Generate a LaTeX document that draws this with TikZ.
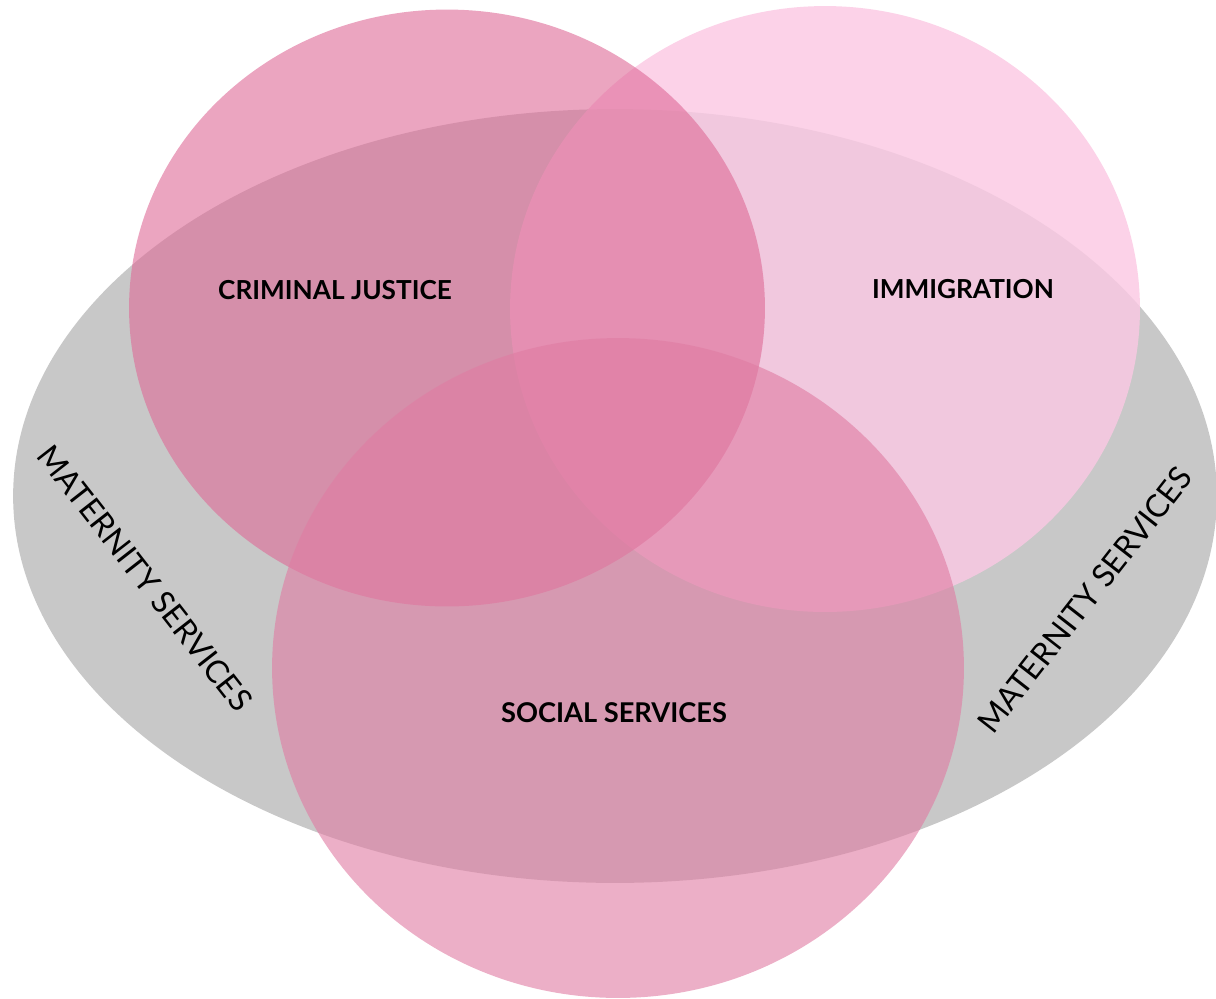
\documentclass[tikz,border=0pt]{standalone}
\usepackage{fontspec}
\setmainfont{Lato}
\definecolor{ellgray}{RGB}{200,200,200}
\definecolor{cjpink}{RGB}{222,105,150}
\definecolor{impink}{RGB}{251,200,227}
\definecolor{sspink}{RGB}{224,124,163}
\begin{document}
\begin{tikzpicture}[x=0.02cm,y=-0.02cm,
  boldlabel/.style={font=\fontsize{14.9}{17}\selectfont\bfseries, text=black, inner sep=0pt},
  midlabel/.style={font=\fontsize{15.5}{17}\selectfont\bfseries, text=black, inner sep=0pt},
  sidelabel/.style={font=\fontsize{18}{20}\selectfont, text=black, inner sep=0pt}]
\useasboundingbox (0,0) rectangle (1216,998);
% maternity ellipse
\fill[ellgray] (615,496) ellipse [x radius=12.04cm, y radius=7.74cm];
% circles
\fill[impink, fill opacity=0.82] (825,309) ellipse [x radius=6.30cm, y radius=6.06cm];
\fill[cjpink, fill opacity=0.6] (447,308) ellipse [x radius=6.36cm, y radius=5.97cm];
\fill[sspink, fill opacity=0.61] (618,668) ellipse [x radius=6.92cm, y radius=6.60cm];
% labels
\node[boldlabel] (cj) at (335,290) {CRIMINAL JUSTICE};
\node[boldlabel] (im) at (963,289) {IMMIGRATION};
\node[midlabel] (ss) at (614,713) {SOCIAL SERVICES};
\node[sidelabel, rotate=-52] (msl) at (145,578) {MATERNITY SERVICES};
\node[sidelabel, rotate=52] (msr) at (1085,600) {MATERNITY SERVICES};
\end{tikzpicture}
\end{document}
